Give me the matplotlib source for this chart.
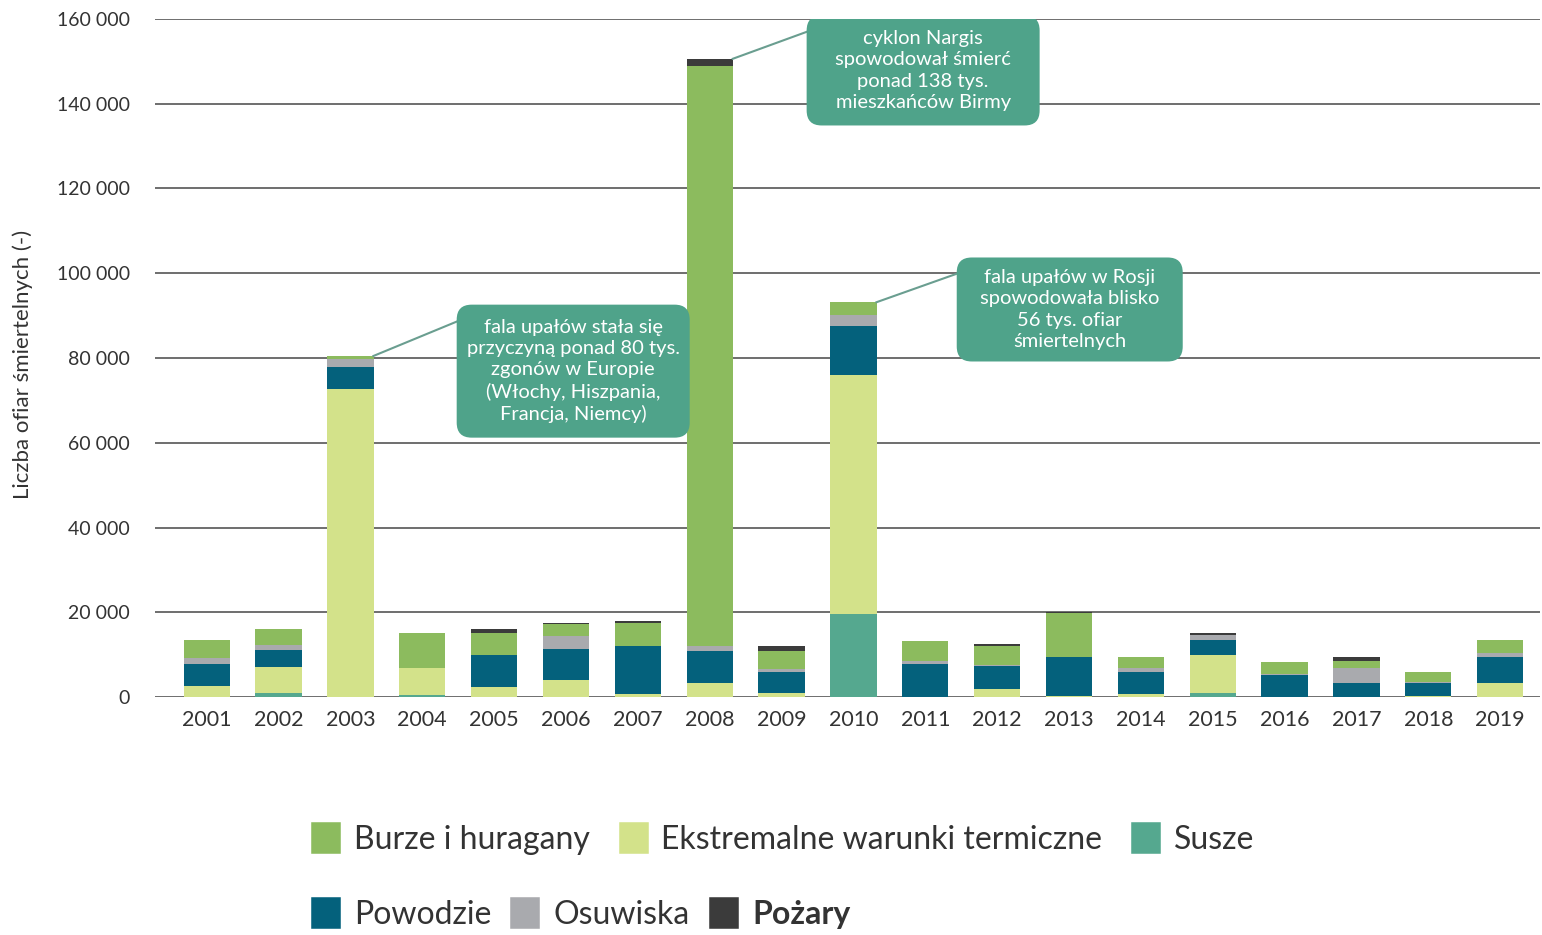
import numpy as np
import matplotlib
matplotlib.use("Agg")
import matplotlib.pyplot as plt
import matplotlib.transforms as mtransforms
from matplotlib.patches import Patch, FancyBboxPatch
from matplotlib.ticker import FuncFormatter

plt.rcParams['font.family'] = ['Lato', 'DejaVu Sans']

years = [str(y) for y in range(2001, 2020)]

# wartości (kolejność stosu od dołu)
susze       = [0, 900, 0, 400, 0, 0, 0, 0, 0, 19500, 0, 0, 0, 0, 1000, 0, 0, 0, 0]
ekstremalne = [2500, 6100, 72600, 6500, 2400, 4000, 800, 3350, 1000, 56600, 0, 1950, 350, 830, 8850, 0, 0, 350, 3350]
powodzie    = [5400, 4100, 5200, 0, 7600, 7400, 11200, 7600, 4900, 11400, 7900, 5300, 9200, 5050, 3700, 5300, 3350, 2850, 6000]
osuwiska    = [1400, 1200, 1900, 0, 0, 3000, 0, 1000, 600, 2760, 600, 400, 0, 870, 1000, 200, 3550, 300, 1000]
burze       = [4100, 3800, 780, 8100, 5000, 2750, 5500, 137000, 4300, 2900, 4700, 4300, 10300, 2700, 0, 2800, 1550, 2350, 3000]
pozary      = [0, 0, 0, 0, 950, 400, 400, 1650, 1200, 0, 0, 550, 300, 0, 550, 0, 950, 0, 0]

series = [
    ("Susze", susze, "#55a88f"),
    ("Ekstremalne warunki termiczne", ekstremalne, "#d3e28a"),
    ("Powodzie", powodzie, "#04617c"),
    ("Osuwiska", osuwiska, "#a9aaae"),
    ("Burze i huragany", burze, "#8cbb5e"),
    ("Pożary", pozary, "#3b3b3b"),
]
colors = {name: c for name, _, c in series}

# (słupek, tekst, środek ramki x, y, szerokość i wysokość ramki w calach)
notes = [
    (2, "fala upałów stała się\nprzyczyną ponad 80 tys.\nzgonów w Europie\n(Włochy, Hiszpania,\nFrancja, Niemcy)", 5.1, 76900, 2.33, 1.33),
    (7, "cyklon Nargis\nspowodował śmierć\nponad 138 tys.\nmieszkańców Birmy", 9.97, 147850, 2.33, 1.10),
    (9, "fala upałów w Rosji\nspowodowała blisko\n56 tys. ofiar\nśmiertelnych", 12.01, 91450, 2.26, 1.04),
]

fig = plt.figure(figsize=(15.42, 9.35), dpi=100)
ax = fig.add_axes([0.1005, 0.2545, 0.898, 0.7252])

x = np.arange(len(years))
bottom = np.zeros(len(years))
for name, vals, c in series:
    ax.bar(x, vals, 0.645, bottom=bottom, color=c, zorder=3)
    bottom += np.array(vals)

ax.set_ylim(0, 160000)
ax.set_xlim(-0.72, 18.55)
ax.set_yticks(np.arange(0, 160001, 20000))
ax.yaxis.set_major_formatter(FuncFormatter(lambda v, p: f"{v:,.0f}".replace(",", " ")))
ax.set_xticks(x)
ax.set_xticklabels(years)
ax.grid(axis='y', color='#555555', lw=1.2, zorder=1)
for s in ax.spines.values():
    s.set_visible(False)
ax.tick_params(axis='y', length=0, pad=18, labelsize=14, labelcolor='#333333')
ax.tick_params(axis='x', length=0, pad=9, labelsize=15.5, labelcolor='#333333')
ax.set_ylabel("Liczba ofiar śmiertelnych (-)", fontsize=16, color='#333333')
ax.yaxis.set_label_coords(-0.088, 0.49)

# ramki z opisami
for i, txt, tx, ty, w, h in notes:
    tr = fig.dpi_scale_trans + mtransforms.ScaledTranslation(tx, ty, ax.transData)
    box = FancyBboxPatch((-w / 2, -h / 2), w, h, boxstyle='round,pad=0,rounding_size=0.15',
                         fc='#4fa38a', ec='none', transform=tr, zorder=6)
    ax.add_patch(box)
    corner = tr.transform((-w / 2 + 0.12, h / 2 - 0.12))
    cx, cy = ax.transData.inverted().transform(corner)
    ax.plot([i + 0.32, cx], [bottom[i], cy], color='#6a9e90', lw=1.5, zorder=5)
    ax.text(tx, ty, txt, ha='center', va='center', fontsize=14.5, color='white',
            linespacing=1.3, zorder=7)

def handle(name):
    c = colors[name]
    return Patch(facecolor=c, edgecolor=c, linewidth=4, joinstyle='round')

row1 = ["Burze i huragany", "Ekstremalne warunki termiczne", "Susze"]
row2 = ["Powodzie", "Osuwiska", "Pożary"]
common = dict(frameon=False, fontsize=23, loc='center left', bbox_transform=fig.transFigure,
              handlelength=0.75, handleheight=0.85, handletextpad=0.5, borderpad=0,
              borderaxespad=0, labelcolor='#333333')
leg1 = fig.legend([handle(n) for n in row1], row1, ncol=3, columnspacing=1.0,
                  bbox_to_anchor=(0.2035, 0.1016), **common)
leg2 = fig.legend([handle(n) for n in row2], row2, ncol=3, columnspacing=0.7,
                  bbox_to_anchor=(0.2035, 0.0214), **common)
leg2.get_texts()[2].set_fontweight('bold')

fig.savefig("out.png", dpi=100)
